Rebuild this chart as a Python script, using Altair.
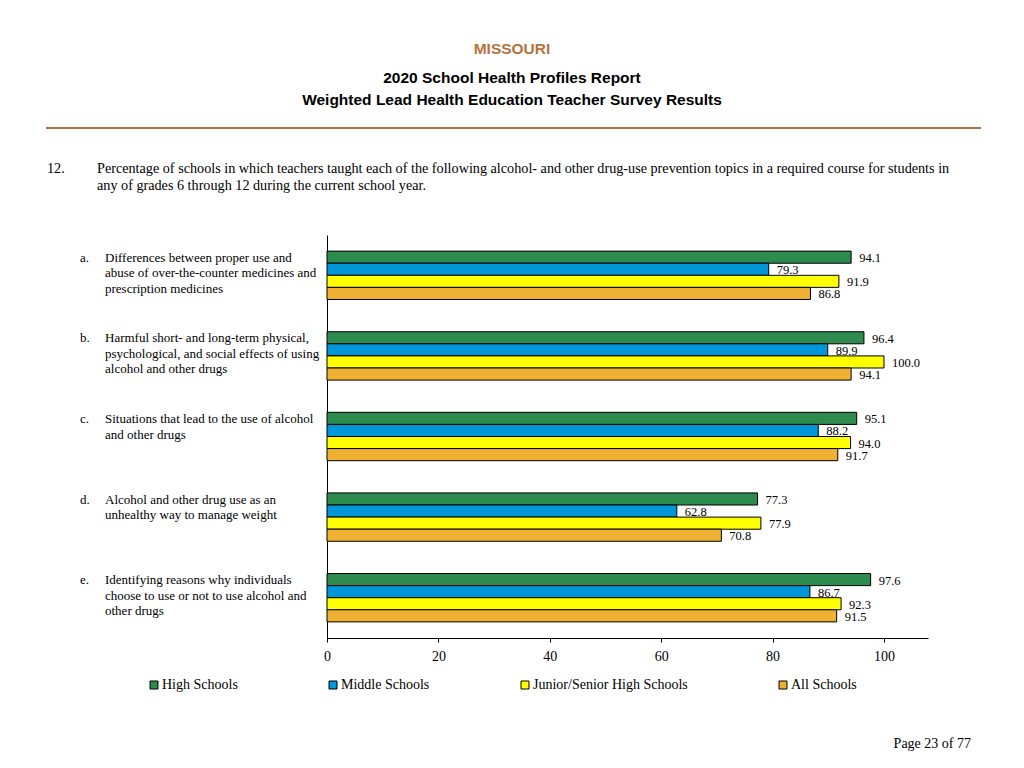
import altair as alt
import pandas as pd

groups = ["a", "b", "c", "d", "e"]
group_labels = [
    ["Differences between proper use and", "abuse of over-the-counter medicines and", "prescription medicines"],
    ["Harmful short- and long-term physical,", "psychological, and social effects of using", "alcohol and other drugs"],
    ["Situations that lead to the use of alcohol", "and other drugs"],
    ["Alcohol and other drug use as an", "unhealthy way to manage weight"],
    ["Identifying reasons why individuals", "choose to use or not to use alcohol and", "other drugs"],
]
series = ["High Schools", "Middle Schools", "Junior/Senior High Schools", "All Schools"]
colors = ["#2E8B4E", "#0096D8", "#FFFF00", "#EFB134"]
high = [94.1, 96.4, 95.1, 77.3, 97.6]
middle = [79.3, 89.9, 88.2, 62.8, 86.7]
junior = [91.9, 100.0, 94.0, 77.9, 92.3]
allsch = [86.8, 94.1, 91.7, 70.8, 91.5]
ticks = [0, 20, 40, 60, 80, 100]

rows = []
for i, g in enumerate(groups):
    for s, vals in zip(series, [high, middle, junior, allsch]):
        rows.append({"group": g, "series": s, "value": vals[i]})
df = pd.DataFrame(rows)
lab_df = pd.DataFrame({"group": groups, "letter": [g + "." for g in groups], "label": group_labels})

W, H = 601, 403
SERIF = "Liberation Serif"
SANS = "Liberation Sans"

yscale = alt.Scale(domain=groups, paddingInner=0.4, paddingOuter=0.2)
yoff_scale = alt.Scale(domain=series, paddingInner=0, paddingOuter=0)
xscale = alt.Scale(domain=[0, 107.9], nice=False, zero=True)
color = alt.Color("series:N", scale=alt.Scale(domain=series, range=colors),
                  legend=alt.Legend(title=None, orient="none", direction="horizontal",
                                    legendX=-180, legendY=443, columnPadding=88,
                                    symbolType="square", symbolSize=64,
                                    symbolStrokeColor="black", symbolStrokeWidth=1,
                                    labelFont=SERIF, labelFontSize=14, labelColor="black",
                                    labelOffset=1))

base = alt.Chart(df)
bars = base.mark_bar(stroke="black", strokeWidth=1).encode(
    x=alt.X("value:Q", scale=xscale,
            axis=alt.Axis(values=ticks, title=None, grid=False, domainColor="black",
                          tickColor="black", tickSize=4, labelFont=SERIF, labelFontSize=14,
                          labelColor="black", labelPadding=7, labelFlush=False)),
    y=alt.Y("group:N", scale=yscale,
            axis=alt.Axis(title=None, labels=False, ticks=False, domainColor="black", grid=False)),
    yOffset=alt.YOffset("series:N", scale=yoff_scale, sort=series),
    color=color,
)
vals = base.mark_text(align="left", baseline="middle", dx=8, dy=1, font=SERIF, fontSize=12.5, color="#000000").encode(
    x=alt.X("value:Q", scale=xscale),
    y=alt.Y("group:N", scale=yscale),
    yOffset=alt.YOffset("series:N", scale=yoff_scale, sort=series),
    text=alt.Text("value:Q", format=".1f"),
)
letters = alt.Chart(lab_df).mark_text(align="left", baseline="top", dy=-23.5, font=SERIF, fontSize=13, color="black").encode(
    x=alt.value(-247), y=alt.Y("group:N", scale=yscale), text="letter:N")
labels = alt.Chart(lab_df).mark_text(align="left", baseline="top", dy=-23.5, font=SERIF, fontSize=13,
                                     lineHeight=15.5, color="black").encode(
    x=alt.value(-222), y=alt.Y("group:N", scale=yscale), text="label")


def txt(t, x, y, **kw):
    return alt.Chart(pd.DataFrame({"t": [t]})).mark_text(**kw).encode(
        x=alt.value(x), y=alt.value(y), text="t:N")


header = [
    txt("MISSOURI", 185, -186, font=SANS, fontSize=15.5, fontWeight="bold", color="#B5723F", align="center", baseline="middle"),
    txt("2020 School Health Profiles Report", 185, -157, font=SANS, fontSize=15.5, fontWeight="bold", color="black", align="center", baseline="middle"),
    txt("Weighted Lead Health Education Teacher Survey Results", 185, -135, font=SANS, fontSize=15.5, fontWeight="bold", color="black", align="center", baseline="middle"),
    txt("12.", -280, -66, font=SERIF, fontSize=14.2, color="black", align="left", baseline="middle"),
    txt("Percentage of schools in which teachers taught each of the following alcohol- and other drug-use prevention topics in a required course for students in",
        -230, -66, font=SERIF, fontSize=14.2, color="black", align="left", baseline="middle"),
    txt("any of grades 6 through 12 during the current school year.", -230, -49, font=SERIF, fontSize=14.2, color="black", align="left", baseline="middle"),
    txt("Page 23 of 77", 644, 509, font=SERIF, fontSize=14, color="black", align="right", baseline="middle"),
]
rule = alt.Chart(pd.DataFrame({"a": [0]})).mark_rule(color="#B5723F", strokeWidth=2).encode(
    x=alt.value(-281), x2=alt.value(654), y=alt.value(-107))

chart = alt.layer(bars, vals, letters, labels, rule, *header).properties(
    width=W, height=H,
    autosize=alt.AutoSizeParams(type="none"),
    padding={"left": 319, "top": 227, "right": 88, "bottom": 122},
    background="white",
).configure_view(stroke=None)

chart.save("out.html", embed_options={"renderer": "svg", "actions": False})
